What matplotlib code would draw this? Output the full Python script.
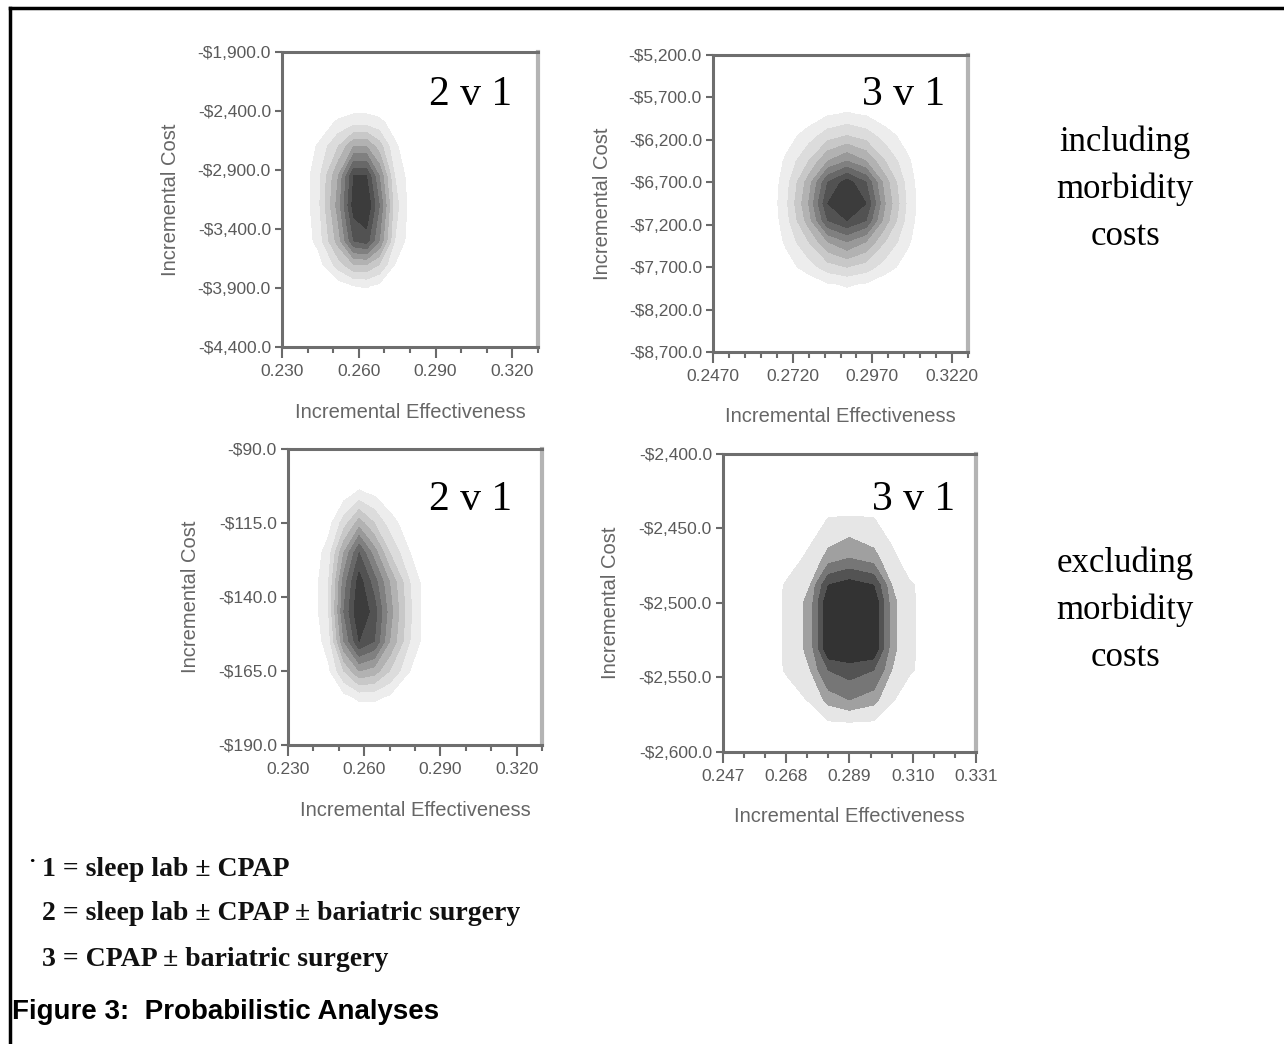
import numpy as np
import matplotlib
matplotlib.use("Agg")
import matplotlib.pyplot as plt
from matplotlib.lines import Line2D
from matplotlib.ticker import FixedLocator, FuncFormatter

# ---------------- data ----------------
panel_titles = ["2 v 1", "3 v 1", "2 v 1", "3 v 1"]
row_notes = ["including\nmorbidity\ncosts", "excluding\nmorbidity\ncosts"]
legend_lines = ["1 = sleep lab \u00b1 CPAP",
                "2 = sleep lab \u00b1 CPAP \u00b1 bariatric surgery",
                "3 = CPAP \u00b1 bariatric surgery"]
caption = "Figure 3:  Probabilistic Analyses"

# axis ranges / ticks
xticks1 = [0.230, 0.260, 0.290, 0.320]
xlim1 = [0.230, 0.330]
yticks1 = [-4400, -3900, -3400, -2900, -2400, -1900]

xticks2 = [0.247, 0.272, 0.297, 0.322]
xlim2 = [0.247, 0.327]
yticks2 = [-8700, -8200, -7700, -7200, -6700, -6200, -5700, -5200]

xticks3 = [0.230, 0.260, 0.290, 0.320]
xlim3 = [0.230, 0.330]
yticks3 = [-190, -165, -140, -115, -90]

xticks4 = [0.247, 0.268, 0.289, 0.310, 0.331]
xlim4 = [0.247, 0.331]
yticks4 = [-2600, -2550, -2500, -2450, -2400]

# density grids (relative joint density of incremental effectiveness / cost)
x1 = [0.236, 0.244, 0.252, 0.258, 0.263, 0.268, 0.274, 0.282]
y1 = [-4100, -3880, -3700, -3500, -3200, -2950, -2700, -2500, -2300]
z1 = [[0, 0, 0, 0, 0, 0, 0, 0],
      [0, 0, 0.5, 1.0, 1.1, 0.8, 0, 0],
      [0, 0.5, 2.5, 4.0, 4.0, 3.0, 1.0, 0],
      [0, 1.3, 4.5, 8.0, 8.5, 6.0, 2.0, 0],
      [0, 1.6, 5.5, 9.5, 10, 7.0, 2.5, 0],
      [0, 1.6, 5.0, 9.0, 9.0, 6.0, 2.0, 0],
      [0, 1.1, 3.0, 5.0, 5.0, 3.5, 1.2, 0],
      [0, 0.3, 1.2, 1.6, 1.6, 1.3, 0.5, 0],
      [0, 0, 0, 0, 0, 0, 0, 0]]

x2 = [0.264, 0.270, 0.277, 0.283, 0.289, 0.295, 0.301, 0.308, 0.314]
y2 = [-8300, -7900, -7700, -7400, -7150, -6950, -6700, -6450, -6150, -5900, -5600]
z2 = [[0, 0, 0, 0, 0, 0, 0, 0, 0],
      [0, 0, 0.3, 0.9, 1.1, 0.9, 0.3, 0, 0],
      [0, 0.5, 1.5, 2.5, 3.0, 2.5, 1.5, 0.5, 0],
      [0, 1.2, 3.0, 5.0, 6.0, 5.0, 3.0, 1.2, 0],
      [0, 1.6, 4.5, 8.0, 9.0, 8.0, 4.5, 1.6, 0],
      [0, 1.8, 5.0, 9.0, 10, 9.0, 5.0, 1.8, 0],
      [0, 1.6, 4.5, 8.0, 9.5, 8.0, 4.5, 1.6, 0],
      [0, 1.2, 3.0, 5.0, 6.0, 5.0, 3.0, 1.2, 0],
      [0, 0.5, 1.5, 2.5, 3.0, 2.5, 1.5, 0.5, 0],
      [0, 0, 0.3, 0.9, 1.1, 0.9, 0.3, 0, 0],
      [0, 0, 0, 0, 0, 0, 0, 0, 0]]

x3 = [0.238, 0.246, 0.252, 0.258, 0.264, 0.270, 0.278, 0.286]
y3 = [-182, -174, -165, -155, -145, -135, -125, -115, -105, -98]
z3 = [[0, 0, 0, 0, 0, 0, 0, 0],
      [0, 0, 0.6, 1.2, 1.2, 0.8, 0, 0],
      [0, 0.8, 3.0, 5.0, 4.5, 3.0, 1.0, 0],
      [0, 1.5, 6.0, 9.0, 8.0, 5.0, 2.0, 0],
      [0, 2.0, 7.0, 10, 8.5, 5.5, 2.2, 0],
      [0, 2.0, 6.5, 9.5, 7.5, 5.0, 2.0, 0],
      [0, 1.5, 5.0, 8.0, 5.5, 3.0, 1.0, 0],
      [0, 0.6, 2.5, 4.5, 3.0, 1.5, 0.3, 0],
      [0, 0, 0.5, 1.2, 0.8, 0.2, 0, 0],
      [0, 0, 0, 0, 0, 0, 0, 0]]

x4 = [0.262, 0.268, 0.276, 0.282, 0.289, 0.297, 0.303, 0.309, 0.318]
y4 = [-2590, -2578, -2565, -2545, -2530, -2500, -2488, -2470, -2444, -2430]
z4 = [[0, 0, 0, 0, 0, 0, 0, 0, 0],
      [0, 0, 0, 1.1, 1.2, 1.1, 0, 0, 0],
      [0, 0, 1.2, 3.0, 4.0, 3.0, 1.2, 0, 0],
      [0, 1.2, 2.5, 6.0, 7.0, 6.0, 2.5, 1.2, 0],
      [0, 1.3, 3.0, 10, 10, 10, 3.0, 1.3, 0],
      [0, 1.3, 3.0, 10, 10, 10, 3.0, 1.3, 0],
      [0, 1.2, 2.5, 8.0, 9.0, 8.0, 2.5, 1.2, 0],
      [0, 0, 1.5, 3.0, 4.0, 3.0, 1.5, 0, 0],
      [0, 0, 0, 1.1, 1.2, 1.1, 0, 0, 0],
      [0, 0, 0, 0, 0, 0, 0, 0, 0]]

# ---------------- styling ----------------
W, H = 1284, 1044
fig = plt.figure(figsize=(W / 100, H / 100), dpi=100)
fig.patch.set_facecolor("white")

levels_fine = [1, 2, 3, 4, 5, 6, 7, 8, 9, 11]
colors_fine = ['#ededed', '#dcdcdc', '#c8c8c8', '#b2b2b2', '#999999',
               '#808080', '#686868', '#525252', '#3c3c3c']
levels_coarse = [1, 2.5, 4, 6, 8, 11]
colors_coarse = ['#e6e6e6', '#a0a0a0', '#767676', '#535353', '#333333']

def px_rect(l, r, t, b):
    return [l / W, 1 - b / H, (r - l) / W, (b - t) / H]

panels = [
    dict(rect=px_rect(282, 538, 52, 347), x=x1, y=y1, z=z1, xt=xticks1, xl=xlim1,
         xfmt="{:.3f}", minor=0.010, yt=yticks1, lev=levels_fine, col=colors_fine,
         title_xy=(0.898, 0.854), xlab_off=66, ylab_off=112),
    dict(rect=px_rect(713, 968, 55, 352), x=x2, y=y2, z=z2, xt=xticks2, xl=xlim2,
         xfmt="{:.4f}", minor=0.005, yt=yticks2, lev=levels_fine, col=colors_fine,
         title_xy=(0.91, 0.865), xlab_off=65, ylab_off=111),
    dict(rect=px_rect(288, 542, 449, 745), x=x3, y=y3, z=z3, xt=xticks3, xl=xlim3,
         xfmt="{:.3f}", minor=0.010, yt=yticks3, lev=levels_fine, col=colors_fine,
         title_xy=(0.882, 0.828), xlab_off=65, ylab_off=98),
    dict(rect=px_rect(723, 976, 454, 752), x=x4, y=y4, z=z4, xt=xticks4, xl=xlim4,
         xfmt="{:.3f}", minor=0.007, yt=yticks4, lev=levels_coarse, col=colors_coarse,
         title_xy=(0.917, 0.846), xlab_off=65, ylab_off=113),
]

tick_font = dict(family="Liberation Sans", size=12.5)
label_color = "#5a5a5a"

for p, title in zip(panels, panel_titles):
    ax = fig.add_axes(p["rect"])
    ax.contourf(p["x"], p["y"], np.array(p["z"]), levels=p["lev"], colors=p["col"])
    ax.set_xlim(*p["xl"])
    ax.set_ylim(p["yt"][0], p["yt"][-1])
    ax.set_xticks(p["xt"])
    ax.set_yticks(p["yt"])
    mticks = np.arange(p["xl"][0], p["xl"][1] + 1e-9, p["minor"])
    ax.xaxis.set_minor_locator(FixedLocator(mticks))
    fmt = p["xfmt"]
    ax.xaxis.set_major_formatter(FuncFormatter(lambda v, pos, f=fmt: f.format(v)))
    ax.yaxis.set_major_formatter(FuncFormatter(lambda v, pos: "-${:,.1f}".format(abs(v))))
    for lab in ax.get_xticklabels() + ax.get_yticklabels():
        lab.set_fontfamily(tick_font["family"])
        lab.set_fontsize(tick_font["size"])
        lab.set_color(label_color)
    ax.tick_params(axis="x", which="major", direction="out", length=8, width=1.5,
                   color="#6a6a6a", pad=4)
    ax.tick_params(axis="x", which="minor", direction="out", length=4, width=1.5,
                   color="#6a6a6a")
    ax.tick_params(axis="y", which="major", direction="out", length=5, width=1.5,
                   color="#6a6a6a", pad=3)
    for side in ["left", "bottom", "top"]:
        ax.spines[side].set_color("#6e6e6e")
        ax.spines[side].set_linewidth(2.2)
    ax.spines["right"].set_color("#b4b4b4")
    ax.spines["right"].set_linewidth(3)

    h_px = p["rect"][3] * H
    w_px = p["rect"][2] * W
    ax.set_xlabel("Incremental Effectiveness", fontfamily="Liberation Sans",
                  fontsize=14.5, color="#666666", va="center")
    ax.xaxis.set_label_coords(0.5, -p["xlab_off"] / h_px)
    ax.set_ylabel("Incremental Cost", fontfamily="Liberation Sans",
                  fontsize=14.5, color="#666666", va="center")
    ax.yaxis.set_label_coords(-p["ylab_off"] / w_px, 0.5)

    ax.text(p["title_xy"][0], p["title_xy"][1], title, transform=ax.transAxes,
            ha="right", va="center", fontfamily="Liberation Serif", fontsize=30,
            color="black")

# row notes on the right
fig.text(1125 / W, 1 - 189 / H, row_notes[0], ha="center", va="center",
         fontfamily="Liberation Serif", fontsize=25, linespacing=1.55)
fig.text(1125 / W, 1 - 610 / H, row_notes[1], ha="center", va="center",
         fontfamily="Liberation Serif", fontsize=25, linespacing=1.55)

# legend of strategy numbers
fig.text(28 / W, 1 - 862 / H, "\u00b7", ha="left", va="center",
         fontfamily="Liberation Serif", fontsize=16, fontweight="bold")
for i, line in enumerate(legend_lines):
    fig.text(42 / W, 1 - (869 + 45 * i) / H, line, ha="left", va="center",
             fontfamily="Liberation Serif", fontsize=20, fontweight="bold",
             color="#111111")

# caption
fig.text(12 / W, 1 - 1012 / H, caption, ha="left", va="center",
         fontfamily="Liberation Sans", fontsize=20, fontweight="bold")

# frame (top and left edges visible)
fig.add_artist(Line2D([10 / W, 1.0], [1 - 8 / H, 1 - 8 / H], transform=fig.transFigure,
                      color="black", linewidth=2.5))
fig.add_artist(Line2D([10 / W, 10 / W], [0.0, 1 - 8 / H], transform=fig.transFigure,
                      color="black", linewidth=2.5))

fig.savefig("out.png", dpi=100, facecolor="white")
